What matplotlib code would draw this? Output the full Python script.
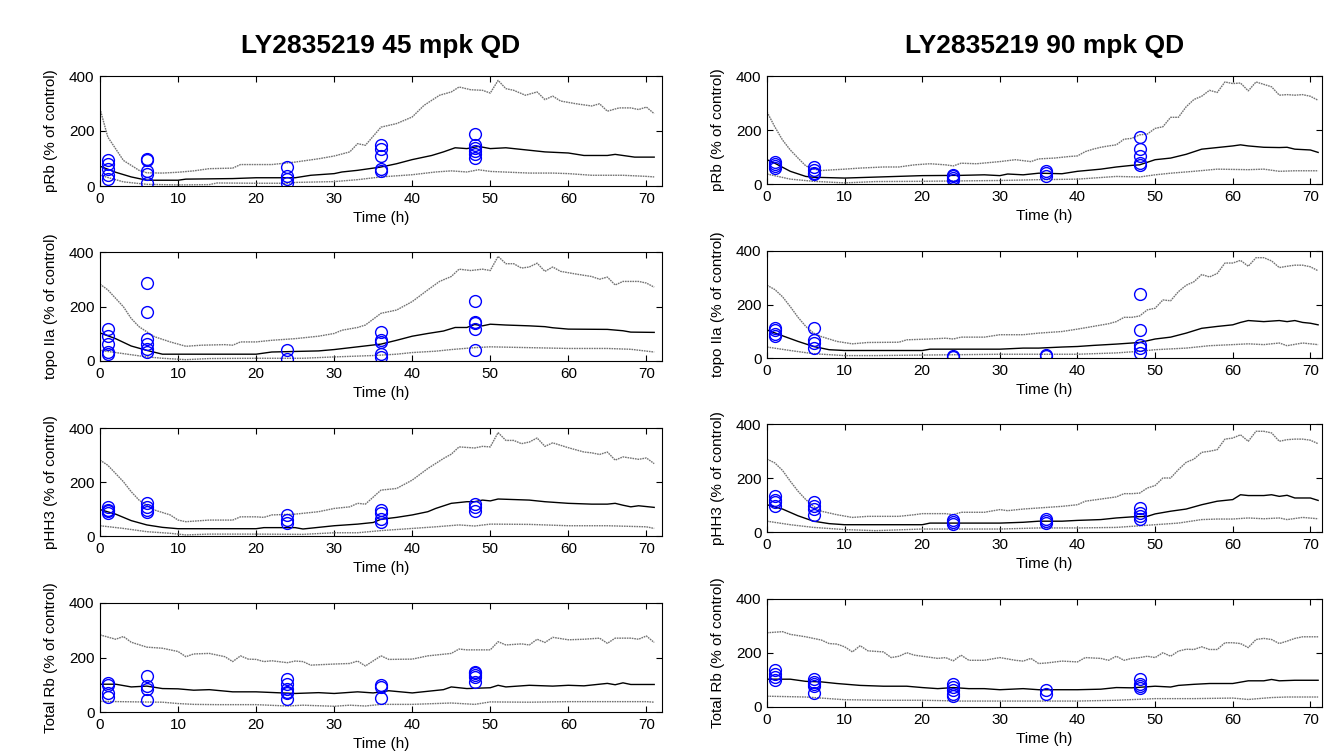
"""MATLAB-style PK/PD panel grid: simulated median + 5/95 percentiles with observed points."""

import numpy as np
import matplotlib.pyplot as plt

plt.rcParams["font.family"] = ["Liberation Sans", "DejaVu Sans"]

TITLES = ["LY2835219 45 mpk QD", "LY2835219 90 mpk QD"]
MARKERS = ["pRb", "topo IIa", "pHH3", "Total Rb"]
OBS_TIMES = [1, 6, 24, 36, 48]
X_TICKS = [0, 10, 20, 30, 40, 50, 60, 70]
Y_TICKS = [0, 200, 400]

# ---- 45 mpk ------------------------------------------------------------
PRB_45_HI = [(0, 281), (1, 178), (3, 93), (5, 57), (6, 48), (8, 47), (10, 50), (12, 55), (14, 63), (17, 65),
             (18, 78), (22, 78), (25, 87), (28, 99), (30, 109), (32, 124), (33, 154), (34, 148), (36, 214),
             (38, 227), (40, 251), (41.5, 293), (43.5, 330), (45, 342), (46, 360), (47.5, 350), (49, 348),
             (50, 338), (51, 384), (52, 354), (53, 348), (54.5, 330), (56, 342), (57, 314), (58, 327), (59, 309),
             (61, 299), (63, 291), (64, 299), (65, 272), (66.5, 284), (68, 284), (69, 278), (70, 287), (71, 263)]
PRB_45_MED = [(0, 72), (2, 50), (4, 33), (5, 27), (6, 21), (10, 21), (11, 25), (17, 27), (20, 30), (25, 30),
              (27, 39), (30, 45), (31, 51), (33, 57), (36, 69), (38, 81), (40, 96), (42.5, 111), (44, 124),
              (45.5, 139), (47, 136), (48.5, 144), (50, 136), (52, 139), (55, 130), (57, 124), (60, 120),
              (62, 111), (65, 111), (66, 115), (67, 111), (68.5, 105), (71, 105)]
PRB_45_LO = [(0, 39), (3, 15), (6, 6), (10, 4), (14, 5), (15, 11), (20, 10), (24, 10), (25, 13), (30, 16),
             (33, 23), (36, 33), (40, 41), (43, 51), (45, 55), (47, 51), (48.5, 59), (50, 53), (55, 47),
             (58, 47), (60, 45), (63, 39), (67, 39), (70, 35), (71, 33)]
PRB_45_OBS = [[96, 79, 63, 39, 27], [99, 93, 53, 45, 11], [69, 35, 24, 11],
              [148, 136, 109, 63, 55], [190, 150, 139, 127, 115, 102]]

TOPO_45_HI = [(0, 282), (1, 261), (3, 199), (4, 156), (5, 126), (6, 107), (7, 89), (9, 70), (11, 54), (13, 58),
              (16, 60), (17, 58), (18, 70), (20, 70), (22, 76), (25, 82), (28, 91), (30, 101), (31, 113),
              (33, 123), (34, 132), (36, 175), (38, 187), (40, 218), (42, 261), (43.5, 292), (45, 310),
              (46, 337), (47.5, 332), (49, 337), (50, 332), (51, 384), (52, 357), (53, 357), (54, 341),
              (55, 345), (56, 359), (57, 329), (58, 345), (59, 329), (61, 319), (63, 310), (64, 300),
              (65, 308), (66, 279), (67, 292), (69, 292), (70, 286), (71, 271)]
TOPO_45_MED = [(0, 103), (2, 82), (4, 55), (6, 39), (8, 25), (20, 25), (22, 33), (28, 37), (30, 42), (33, 52),
               (36, 62), (38, 76), (40, 91), (42, 101), (44, 110), (45.5, 123), (47, 123), (48, 134), (49, 129),
               (50, 135), (52, 132), (55, 129), (57, 126), (58, 122), (60, 117), (65, 116), (67, 111),
               (68, 106), (71, 105)]
TOPO_45_LO = [(0, 39), (3, 27), (6, 15), (8, 10), (11, 5), (14, 9), (20, 10), (26, 10), (30, 15), (35, 20),
              (38, 25), (40, 31), (43, 36), (45, 42), (48, 49), (50, 52), (55, 49), (60, 46), (65, 46),
              (68, 43), (71, 33)]
TOPO_45_OBS = [[117, 91, 62, 33, 27], [288, 181, 82, 64, 45, 33], [39, 9],
               [105, 76, 68, 25, 15], [220, 144, 138, 117, 42]]

PHH3_45_HI = [(0, 281), (1, 262), (3, 201), (4, 164), (5, 133), (6, 114), (7, 96), (9, 78), (10, 59), (11, 53),
              (14, 59), (17, 59), (18, 71), (20, 71), (21, 69), (22, 78), (25, 81), (28, 90), (30, 102),
              (32, 108), (33, 121), (34, 118), (36, 170), (38, 176), (40, 207), (42, 250), (44, 287),
              (45, 303), (46, 330), (48, 326), (49, 332), (50, 330), (51, 383), (52, 354), (53, 354),
              (54, 342), (55, 348), (56, 363), (57, 332), (58, 345), (60, 327), (62, 311), (63, 308),
              (64, 302), (65, 311), (66, 281), (67, 293), (69, 284), (70, 289), (71, 268)]
PHH3_45_MED = [(0, 98), (2, 81), (4, 57), (6, 41), (8, 32), (10, 27), (20, 27), (21, 31), (25, 31), (26, 26),
               (28, 32), (30, 38), (33, 44), (35, 50), (36, 62), (38, 69), (40, 78), (42, 90), (43, 102),
               (45, 121), (47, 127), (48, 127), (49, 133), (50, 130), (51, 137), (55, 133), (57, 127),
               (60, 121), (63, 118), (65, 118), (66, 121), (67, 114), (68, 108), (69, 112), (71, 106)]
PHH3_45_LO = [(0, 38), (3, 28), (6, 16), (9, 10), (11, 4), (14, 7), (20, 7), (26, 6), (30, 12), (33, 12),
              (36, 20), (40, 28), (43, 34), (46, 41), (48, 37), (50, 44), (55, 43), (60, 38), (65, 38),
              (70, 34), (71, 28)]
PHH3_45_OBS = [[108, 98, 92, 86], [123, 106, 96, 90], [78, 59, 49], [96, 86, 62, 53], [118, 108, 92]]

TRB_45_HI = [(0, 283), (2, 267), (3, 277), (4, 256), (6, 238), (8, 234), (10, 222), (11, 203), (12, 213),
             (14, 215), (16, 203), (17, 185), (18, 206), (19, 194), (20, 193), (21, 185), (22, 188), (24, 181),
             (25, 187), (26, 185), (27, 172), (30, 176), (32, 178), (33, 187), (34, 169), (36, 206), (37, 193),
             (40, 194), (42, 206), (45, 215), (46, 231), (47, 228), (50, 228), (51, 258), (52, 246), (54, 250),
             (55, 246), (56, 267), (57, 255), (58, 274), (60, 265), (62, 267), (64, 271), (65, 252), (66, 271),
             (68, 271), (69, 267), (70, 279), (71, 255)]
TRB_45_MED = [(0, 102), (2, 102), (4, 92), (6, 95), (8, 86), (10, 85), (12, 80), (14, 82), (17, 74), (20, 74),
              (25, 68), (28, 71), (30, 68), (33, 74), (35, 70), (37, 78), (40, 70), (42, 76), (44, 82),
              (45, 92), (47, 86), (50, 89), (51, 98), (52, 92), (55, 98), (58, 95), (60, 98), (62, 96),
              (65, 105), (66, 100), (67, 107), (68, 101), (71, 101)]
TRB_45_LO = [(0, 39), (5, 37), (8, 36), (10, 31), (12, 28), (15, 27), (20, 27), (24, 22), (26, 25), (30, 21),
             (32, 25), (34, 22), (36, 28), (40, 28), (45, 33), (48, 28), (50, 37), (55, 36), (60, 38),
             (65, 38), (70, 38), (71, 36)]
TRB_45_OBS = [[107, 98, 68, 55], [132, 95, 86, 43], [121, 102, 86, 74, 70, 49], [98, 92, 53],
              [148, 144, 135, 127, 111]]

# ---- 90 mpk ------------------------------------------------------------
PRB_90_HI = [(0, 267), (1, 212), (2, 163), (3, 126), (4, 96), (5, 67), (6, 55), (7, 50), (10, 55), (12, 59),
             (15, 63), (17, 63), (19, 71), (21, 75), (23, 71), (24, 67), (25, 77), (27, 75), (30, 83), (32, 90),
             (34, 83), (35, 93), (37, 96), (39, 102), (40, 104), (41, 120), (42, 129), (43, 136), (44, 141),
             (45, 145), (46, 166), (47, 169), (48, 182), (49, 185), (50, 206), (51, 212), (52, 247), (53, 247),
             (54, 286), (55, 313), (56, 325), (57, 347), (58, 339), (59, 378), (60, 372), (61, 374), (62, 345),
             (63, 378), (64, 369), (65, 360), (66, 329), (67, 331), (68, 329), (69, 331), (70, 325), (71, 310)]
PRB_90_MED = [(0, 90), (1, 77), (3, 47), (5, 28), (6, 25), (10, 22), (20, 31), (25, 32), (28, 34), (30, 31),
              (31, 37), (33, 34), (35, 40), (38, 38), (40, 47), (43, 55), (45, 63), (47, 69), (48, 71), (50, 90),
              (52, 96), (54, 110), (56, 129), (58, 135), (60, 141), (61, 145), (62, 141), (64, 136), (66, 135),
              (67, 136), (68, 129), (70, 126), (71, 117)]
PRB_90_LO = [(0, 37), (3, 18), (6, 10), (10, 4), (14, 9), (20, 10), (30, 13), (35, 16), (40, 18), (45, 28),
             (48, 26), (50, 34), (52, 40), (55, 47), (58, 55), (62, 53), (64, 55), (66, 47), (68, 49), (71, 49)]
PRB_90_OBS = [[83, 75, 68, 60], [63, 53, 40, 37], [34, 28, 22, 16], [49, 40, 28], [173, 129, 102, 77, 71]]

TOPO_90_HI = [(0, 272), (1, 256), (2, 229), (3, 192), (4, 152), (5, 118), (6, 93), (7, 80), (9, 62), (11, 53),
              (13, 58), (17, 59), (18, 68), (21, 71), (23, 74), (24, 71), (25, 78), (28, 78), (30, 87),
              (33, 87), (35, 93), (38, 99), (40, 108), (42, 118), (44, 128), (45, 136), (46, 152), (47, 152),
              (48, 157), (49, 180), (50, 186), (51, 217), (52, 214), (53, 248), (54, 272), (55, 285), (56, 312),
              (57, 303), (58, 316), (59, 355), (60, 355), (61, 365), (62, 343), (63, 375), (64, 375), (65, 363),
              (66, 338), (67, 343), (68, 347), (69, 347), (70, 341), (71, 326)]
TOPO_90_MED = [(0, 105), (2, 83), (4, 62), (6, 43), (8, 31), (10, 28), (20, 28), (21, 33), (30, 33), (33, 37),
               (35, 37), (38, 41), (40, 43), (42, 47), (45, 52), (48, 58), (50, 71), (52, 78), (54, 93),
               (56, 111), (58, 118), (60, 124), (61, 133), (62, 140), (64, 136), (66, 140), (67, 136),
               (68, 140), (69, 133), (70, 130), (71, 124)]
TOPO_90_LO = [(0, 41), (3, 28), (6, 16), (10, 9), (14, 9), (20, 11), (30, 14), (40, 14), (45, 19), (48, 25),
              (50, 31), (54, 37), (57, 46), (60, 50), (62, 53), (64, 50), (66, 56), (67, 46), (69, 56), (71, 50)]
TOPO_90_OBS = [[114, 105, 90, 83], [114, 68, 56, 37], [9, 4], [12, 6], [241, 103, 50, 37, 19]]

PHH3_90_HI = [(0, 270), (1, 256), (2, 228), (3, 188), (4, 151), (5, 120), (6, 95), (7, 77), (9, 64), (11, 54),
              (13, 58), (17, 58), (19, 64), (20, 68), (23, 68), (24, 64), (25, 73), (28, 73), (30, 83),
              (31, 79), (33, 85), (35, 89), (38, 95), (40, 101), (41, 114), (43, 122), (45, 130), (46, 142),
              (47, 142), (48, 144), (49, 163), (50, 172), (51, 200), (52, 200), (53, 231), (54, 258), (55, 270),
              (56, 295), (57, 299), (58, 305), (59, 344), (60, 348), (61, 360), (62, 336), (63, 373), (64, 373),
              (65, 367), (66, 336), (67, 342), (68, 344), (69, 344), (70, 340), (71, 327)]
PHH3_90_MED = [(0, 101), (2, 85), (4, 60), (6, 40), (8, 31), (10, 27), (20, 27), (21, 33), (30, 33), (33, 36),
               (35, 40), (38, 40), (40, 43), (43, 46), (45, 52), (47, 56), (49, 58), (50, 67), (52, 77),
               (54, 85), (56, 101), (58, 114), (60, 120), (61, 138), (62, 135), (64, 135), (65, 138), (66, 132),
               (67, 136), (68, 126), (70, 126), (71, 117)]
PHH3_90_LO = [(0, 40), (3, 27), (6, 17), (10, 9), (14, 5), (20, 11), (30, 11), (35, 15), (40, 15), (45, 17),
              (48, 23), (50, 27), (53, 33), (56, 46), (58, 48), (60, 48), (62, 52), (64, 49), (66, 52), (67, 46),
              (69, 54), (71, 49)]
PHH3_90_OBS = [[132, 120, 110, 98], [110, 98, 85, 64], [46, 36, 31], [48, 40, 33], [89, 70, 58, 48]]

TRB_90_HI = [(0, 275), (2, 279), (3, 269), (5, 260), (7, 248), (8, 235), (9, 233), (10, 223), (11, 204),
             (12, 227), (13, 208), (15, 204), (16, 183), (17, 188), (18, 201), (19, 192), (20, 188), (22, 180),
             (23, 183), (24, 171), (25, 192), (26, 173), (28, 173), (30, 183), (32, 173), (33, 170), (34, 180),
             (35, 161), (36, 163), (38, 170), (40, 167), (41, 183), (43, 180), (44, 173), (45, 188), (46, 173),
             (47, 180), (48, 183), (49, 188), (50, 183), (51, 201), (52, 188), (53, 207), (54, 214), (55, 213),
             (56, 223), (57, 213), (58, 213), (59, 238), (60, 238), (61, 235), (62, 220), (63, 250), (64, 254),
             (65, 250), (66, 235), (67, 244), (68, 254), (69, 260), (71, 260)]
TRB_90_MED = [(0, 103), (3, 103), (5, 95), (7, 93), (9, 87), (12, 80), (15, 77), (18, 77), (20, 72), (22, 68),
              (24, 72), (26, 68), (28, 68), (30, 64), (33, 68), (35, 64), (40, 64), (43, 66), (45, 72), (47, 71),
              (50, 77), (52, 74), (53, 80), (55, 84), (57, 87), (60, 87), (62, 97), (64, 97), (65, 102),
              (66, 97), (68, 99), (71, 99)]
TRB_90_LO = [(0, 40), (5, 37), (8, 31), (10, 27), (15, 25), (20, 25), (25, 22), (40, 22), (45, 25), (50, 31),
             (55, 31), (60, 33), (62, 28), (65, 35), (67, 37), (71, 37)]
TRB_90_OBS = [[136, 124, 111, 99], [102, 93, 84, 77, 52], [87, 74, 62, 50, 40], [62, 50], [102, 87, 77, 72]]

PANELS = [
    [(PRB_45_HI, PRB_45_MED, PRB_45_LO, PRB_45_OBS),
     (TOPO_45_HI, TOPO_45_MED, TOPO_45_LO, TOPO_45_OBS),
     (PHH3_45_HI, PHH3_45_MED, PHH3_45_LO, PHH3_45_OBS),
     (TRB_45_HI, TRB_45_MED, TRB_45_LO, TRB_45_OBS)],
    [(PRB_90_HI, PRB_90_MED, PRB_90_LO, PRB_90_OBS),
     (TOPO_90_HI, TOPO_90_MED, TOPO_90_LO, TOPO_90_OBS),
     (PHH3_90_HI, PHH3_90_MED, PHH3_90_LO, PHH3_90_OBS),
     (TRB_90_HI, TRB_90_MED, TRB_90_LO, TRB_90_OBS)],
]

# layout in pixels of the 1327x753 canvas
W, H = 1327, 753
COL_X = [(100, 662, 72), (767, 1322, 71.5)]  # left, right, xmax
ROW_Y = [
    [(76, 186), (252, 361), (428, 536), (603, 712)],
    [(76, 184), (251, 358), (424, 532), (599, 707)],
]


def draw_panel(ax, hi, med, lo, obs, marker, xmax):
    # percentile bands: MATLAB dotted lines render as a fine grey stipple
    for series in (hi, lo):
        arr = np.array(series, dtype=float)
        ax.plot(arr[:, 0], arr[:, 1], color="0.45", linewidth=1.0, linestyle=(0, (1.2, 0.6)))
    arr = np.array(med, dtype=float)
    ax.plot(arr[:, 0], arr[:, 1], color="black", linewidth=1.0)
    for t, vals in zip(OBS_TIMES, obs):
        ax.plot([t] * len(vals), vals, linestyle="none", marker="o", markersize=8.5,
                markerfacecolor="none", markeredgecolor="blue", markeredgewidth=1.0)
    ax.set_xlim(0, xmax)
    ax.set_ylim(0, 400)
    ax.set_xticks(X_TICKS)
    ax.set_yticks(Y_TICKS)
    ax.tick_params(direction="in", length=4, width=0.8, top=True, right=True, labelsize=11, pad=4)
    for sp in ax.spines.values():
        sp.set_linewidth(0.8)
    ax.set_xlabel("Time (h)", fontsize=11, labelpad=4)
    ax.set_ylabel(f"{marker} (% of control)", fontsize=11, labelpad=8)


fig = plt.figure(figsize=(W / 100, H / 100), dpi=100)
for c, (x0, x1, xmax) in enumerate(COL_X):
    for r, (y0, y1) in enumerate(ROW_Y[c]):
        ax = fig.add_axes([x0 / W, 1 - y1 / H, (x1 - x0) / W, (y1 - y0) / H])
        draw_panel(ax, *PANELS[c][r], MARKERS[r], xmax)
    fig.text((x0 + x1) / 2 / W, 1 - 53 / H, TITLES[c], ha="center", va="baseline",
             fontsize=19, fontweight="bold")

fig.savefig("out.png", dpi=100)
plt.close(fig)
